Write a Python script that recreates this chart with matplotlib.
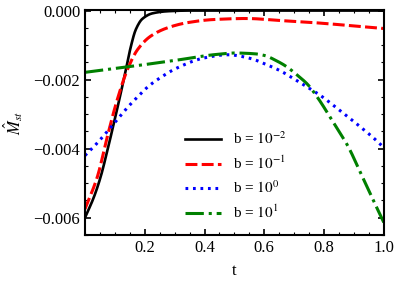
import numpy as np
import matplotlib
matplotlib.use("Agg")
import matplotlib.pyplot as plt
from matplotlib.ticker import MultipleLocator

plt.rcParams['font.family'] = ['Liberation Serif', 'DejaVu Serif']
plt.rcParams['mathtext.fontset'] = 'stix'

# b = 1e-2
t_k = [0.0, 0.03, 0.053, 0.075, 0.097, 0.12, 0.137, 0.153, 0.17, 0.192, 0.226, 0.276, 0.35, 0.5, 0.7, 1.0]
m_k = [-0.00600, -0.00540, -0.0048, -0.00405, -0.00325, -0.00238, -0.00171, -0.00106, -0.00055, -0.00024, -0.00008, -0.00002, 0.0, 0.0, 0.0, 0.0]
# b = 1e-1
t_r = [0.0, 0.042, 0.075, 0.108, 0.142, 0.176, 0.22, 0.276, 0.343, 0.43, 0.54, 0.655, 0.766, 0.88, 1.0]
m_r = [-0.00575, -0.0048, -0.00364, -0.00258, -0.00171, -0.00113, -0.00074, -0.0005, -0.00035, -0.00026, -0.00023, -0.00029, -0.00035, -0.00043, -0.00052]
# b = 1e0
t_b = [0.0, 0.03, 0.075, 0.108, 0.142, 0.176, 0.213, 0.253, 0.304, 0.40, 0.477, 0.555, 0.6, 0.65, 0.694, 0.739, 0.783, 0.845, 0.906, 0.968, 1.0]
m_b = [-0.00420, -0.00394, -0.0035, -0.00316, -0.00281, -0.0025, -0.00219, -0.00194, -0.00168, -0.00137, -0.00128, -0.00139, -0.00154, -0.00173, -0.00195, -0.00219, -0.00243, -0.00284, -0.00326, -0.00371, -0.00397]
# b = 1e1
t_g = [0.0, 0.153, 0.32, 0.43, 0.5, 0.565, 0.6, 0.644, 0.672, 0.717, 0.745, 0.783, 0.823, 0.88, 0.922, 0.967, 1.0]
m_g = [-0.00179, -0.00162, -0.00142, -0.00128, -0.00123, -0.00125, -0.0013, -0.00147, -0.00161, -0.00192, -0.00214, -0.00258, -0.00313, -0.00393, -0.0047, -0.00554, -0.00614]

labels = ['b = $10^{-2}$', 'b = $10^{-1}$', 'b = $10^{0}$', 'b = $10^{1}$']

def smooth(tk, mk):
    tt = np.linspace(0, 1, 500)
    tk = np.asarray(tk); mk = np.asarray(mk)
    h = np.diff(tk); d = np.diff(mk) / h
    n = len(tk)
    m = np.zeros(n)
    for i in range(1, n - 1):
        if d[i - 1] * d[i] <= 0:
            m[i] = 0
        else:
            w1 = 2 * h[i] + h[i - 1]; w2 = h[i] + 2 * h[i - 1]
            m[i] = (w1 + w2) / (w1 / d[i - 1] + w2 / d[i])
    m[0] = d[0]; m[-1] = d[-1]
    idx = np.clip(np.searchsorted(tk, tt) - 1, 0, n - 2)
    x0 = tk[idx]; hh = h[idx]; s = (tt - x0) / hh
    h00 = 2 * s**3 - 3 * s**2 + 1; h10 = s**3 - 2 * s**2 + s
    h01 = -2 * s**3 + 3 * s**2; h11 = s**3 - s**2
    yy = h00 * mk[idx] + h10 * hh * m[idx] + h01 * mk[idx + 1] + h11 * hh * m[idx + 1]
    return tt, yy

fig = plt.figure(figsize=(3.99, 2.82), dpi=100)
ax = fig.add_axes([0.213, 0.167, 0.749, 0.798])

ax.plot(*smooth(t_k, m_k), color='black', lw=1.9, ls='-', label=labels[0])
ax.plot(*smooth(t_r, m_r), color='red', lw=2.2, ls=(0, (3.9, 1.4)), label=labels[1])
ax.plot(*smooth(t_b, m_b), color='blue', lw=2.2, ls=(0, (0.9, 1.55)), label=labels[2])
ax.plot(*smooth(t_g, m_g), color='green', lw=2.2, ls=(0, (6, 1.6, 1, 1.6)), label=labels[3])

ax.set_xlim(0, 1.0)
ax.set_ylim(-0.0065, 0.00002)
ax.set_xticks([0.2, 0.4, 0.6, 0.8, 1.0])
ax.set_xticklabels(['0.2', '0.4', '0.6', '0.8', '1.0'])
ax.set_yticks([0.0, -0.002, -0.004, -0.006])
ax.set_yticklabels(['0.000', '\u22120.002', '\u22120.004', '\u22120.006'])
ax.xaxis.set_minor_locator(MultipleLocator(0.05))
ax.yaxis.set_minor_locator(MultipleLocator(0.0005))
ax.tick_params(which='both', direction='in', top=True, right=True, labelsize=12)
ax.tick_params(which='major', length=4, width=1.2)
ax.tick_params(which='minor', length=2, width=0.8)
for sp in ax.spines.values():
    sp.set_linewidth(1.5)

ax.set_xlabel('t', fontsize=12, labelpad=5)
ax.set_ylabel(r'$\hat{M}_{st}$', fontsize=12, labelpad=6)

ax.legend(loc='lower left', bbox_to_anchor=(0.29, 0.0), frameon=False, fontsize=11,
          handlelength=2.3, labelspacing=0.5, handletextpad=0.8)

fig.savefig('out.png', dpi=100)
